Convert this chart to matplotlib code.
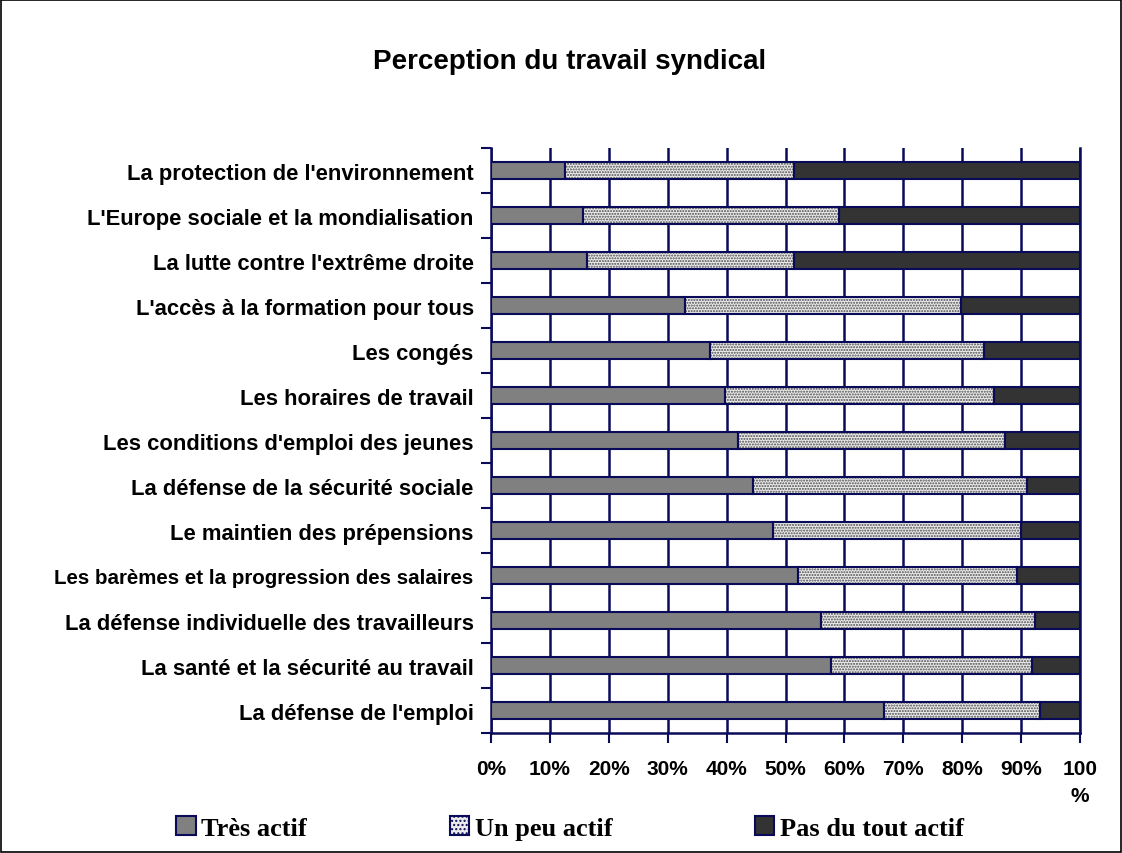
import numpy as np
import matplotlib
matplotlib.use("Agg")
import matplotlib.pyplot as plt
from matplotlib.patches import Rectangle

# Topics, listed from bottom to top of the chart
topics = [
    "La défense de l'emploi",
    "La santé et la sécurité au travail",
    "La défense individuelle des travailleurs",
    "Les barèmes et la progression des salaires",
    "Le maintien des prépensions",
    "La défense de la sécurité sociale",
    "Les conditions d'emploi des jeunes",
    "Les horaires de travail",
    "Les congés",
    "L'accès à la formation pour tous",
    "La lutte contre l'extrême droite",
    "L'Europe sociale et la mondialisation",
    "La protection de l'environnement",
]

# Shares in percent
tres_actif = [66.7, 57.7, 56.1, 52.2, 47.8, 44.4, 42.0, 39.8, 37.2, 33.0, 16.3, 15.6, 12.6]
un_peu_actif = [26.5, 34.1, 36.2, 37.1, 42.2, 46.6, 45.2, 45.6, 46.5, 46.8, 35.2, 43.4, 38.8]
pas_du_tout = [6.8, 8.2, 7.7, 10.7, 10.0, 9.0, 12.8, 14.6, 16.3, 20.2, 48.5, 41.0, 48.6]

series_names = ["Très actif", "Un peu actif", "Pas du tout actif"]
x_ticks = [0, 10, 20, 30, 40, 50, 60, 70, 80, 90, 100]
x_ticklabels = ["0%", "10%", "20%", "30%", "40%", "50%", "60%", "70%", "80%", "90%", "100\n%"]

NAVY = "#0a0a5a"
SANS = ["Liberation Sans", "DejaVu Sans"]
SERIF = ["Liberation Serif", "DejaVu Serif"]
DOT_BG = "#ececec"

fig = plt.figure(figsize=(11.22, 8.54), dpi=100)
ax = fig.add_axes([0.4376, 0.1405, 0.5250, 0.6850])

y = np.arange(len(topics))
h = 0.37
left2 = np.array(tres_actif)
left3 = left2 + np.array(un_peu_actif)

b1 = ax.barh(y, tres_actif, height=h, color="#808080", edgecolor=NAVY,
             linewidth=1.5, zorder=3)
# dotted fill first, then the outline on top
ax.barh(y, un_peu_actif, left=left2, height=h, color=DOT_BG,
        edgecolor="#4a4a4a", hatch="......", linewidth=0, zorder=3)
b2 = ax.barh(y, un_peu_actif, left=left2, height=h, fill=False,
             edgecolor=NAVY, linewidth=1.5, zorder=4)
b3 = ax.barh(y, pas_du_tout, left=left3, height=h, color="#333333",
             edgecolor=NAVY, linewidth=1.5, zorder=3)

ax.set_xlim(0, 100)
ax.set_ylim(-0.5, len(topics) - 0.5)

# vertical gridlines behind the bars
ax.set_xticks(x_ticks)
ax.set_xticklabels(x_ticklabels, fontsize=15, fontweight="bold", family=SANS,
                   linespacing=1.5)
ax.xaxis.grid(True, color=NAVY, linewidth=1.8, zorder=0)
ax.set_axisbelow(True)
ax.tick_params(axis="x", direction="out", length=7, width=1.5, color=NAVY,
               pad=12)

# category boundaries as major ticks, names on minor ticks
ax.set_yticks(np.arange(-0.5, len(topics), 1.0))
ax.set_yticklabels([])
ax.set_yticks(y, minor=True)
ylabels = ax.set_yticklabels(topics, minor=True, fontsize=15.8,
                             fontweight="bold", family=SANS)
# the longest name is set a bit tighter
ylabels[3].set_fontsize(14.8)
ylabels[3].set_fontweight("bold")
ax.tick_params(axis="y", which="major", direction="out", length=7, width=1.5,
               color=NAVY)
ax.tick_params(axis="y", which="minor", length=0, pad=12.5)

ax.spines["top"].set_visible(False)
for side in ["left", "bottom", "right"]:
    ax.spines[side].set_color(NAVY)
    ax.spines[side].set_linewidth(1.8)

fig.text(0.508, 0.927, "Perception du travail syndical", ha="center",
         va="center", fontsize=20, fontweight="bold", family=SANS)

fig.legend([b1, b2, b3], series_names, loc="center", ncol=3,
           bbox_to_anchor=(0.508, 0.029), frameon=False,
           prop={"family": SERIF, "weight": "bold", "size": 19},
           handlelength=0.75, handleheight=0.7, handletextpad=0.2,
           columnspacing=5.4)
# legend swatch for the dotted series needs its fill
handles = fig.legends[0].legend_handles
handles[1].set_fill(True)
handles[1].set_facecolor(DOT_BG)
handles[1].set_hatch("....")

fig.patches.append(Rectangle((0.001, 0.001), 0.998, 0.998, transform=fig.transFigure,
                             fill=False, edgecolor="black", linewidth=1.2))

fig.savefig("out.png", dpi=100)
